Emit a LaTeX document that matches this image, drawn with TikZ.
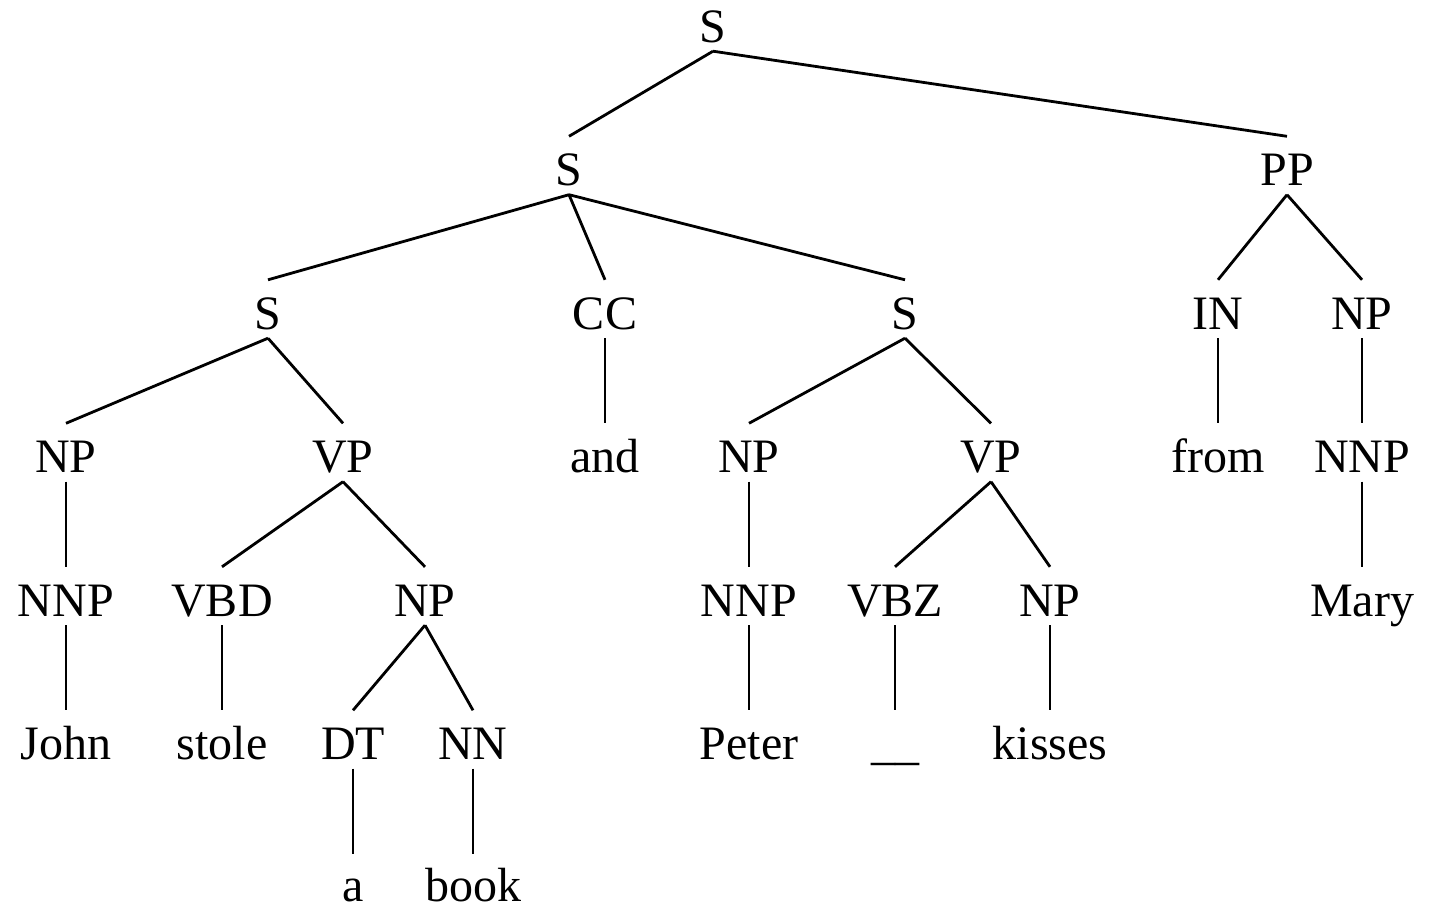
\documentclass[tikz,border=0pt]{standalone}
\usepackage{fontspec}
\setmainfont{Liberation Serif}
\begin{document}
\begin{tikzpicture}[x=1pt,y=-1pt,
  lbl/.style={anchor=base,inner sep=0pt,text height=49pt,text depth=9pt,font=\fontsize{48}{58}\selectfont},
  leaf/.style={lbl,text depth=0pt,text height=47pt},
  edge/.style={line width=2.8pt,line cap=butt}]
\useasboundingbox (0,0) rectangle (1440,908);
% level baselines
\def\La{42}\def\Lb{185.5}\def\Lc{329}\def\Ld{472.5}\def\Le{616}\def\Lf{759.5}\def\Lg{901}
\node[lbl] (s0) at (713,\La) {S};
\node[lbl] (s1) at (569,\Lb) {S};
\node[lbl] (pp) at (1287,\Lb) {PP};
\node[lbl] (s2a) at (268,\Lc) {S};
\node[lbl] (cc) at (605,\Lc) {CC};
\node[lbl] (s2b) at (905,\Lc) {S};
\node[lbl] (in) at (1218,\Lc) {IN};
\node[lbl] (np2) at (1362,\Lc) {NP};
\node[lbl] (np3a) at (66,\Ld) {NP};
\node[lbl] (vp3a) at (343,\Ld) {VP};
\node[lbl] (and) at (605,\Ld) {and};
\node[lbl] (np3b) at (749,\Ld) {NP};
\node[lbl] (vp3b) at (991,\Ld) {VP};
\node[lbl] (from) at (1218,\Ld) {from};
\node[lbl] (nnp3) at (1362,\Ld) {NNP};
\node[lbl] (nnp4a) at (66,\Le) {NNP};
\node[lbl] (vbd) at (222,\Le) {VBD};
\node[lbl] (np4a) at (425,\Le) {NP};
\node[lbl] (nnp4b) at (749,\Le) {NNP};
\node[lbl] (vbz) at (895,\Le) {VBZ};
\node[lbl] (np4b) at (1050,\Le) {NP};
\node[lbl] (mary) at (1362,\Le) {Mary};
\node[lbl] (john) at (66,\Lf) {John};
\node[lbl] (stole) at (222,\Lf) {stole};
\node[lbl] (dt) at (353,\Lf) {DT};
\node[lbl] (nn) at (473,\Lf) {NN};
\node[lbl] (peter) at (749,\Lf) {Peter};
\node[lbl] (gap) at (895,\Lf) {\_\_};
\node[lbl] (kisses) at (1050,\Lf) {kisses};
\node[leaf] (a) at (353,\Lg) {a};
\node[leaf] (book) at (473,\Lg) {book};
\foreach \p/\c in {s0/s1,s0/pp,s1/s2a,s1/cc,s1/s2b,pp/in,pp/np2,
  s2a/np3a,s2a/vp3a,cc/and,s2b/np3b,s2b/vp3b,in/from,np2/nnp3,
  np3a/nnp4a,vp3a/vbd,vp3a/np4a,np3b/nnp4b,vp3b/vbz,vp3b/np4b,nnp3/mary,
  nnp4a/john,vbd/stole,np4a/dt,np4a/nn,nnp4b/peter,vbz/gap,np4b/kisses,
  dt/a,nn/book}
  \draw[edge] (\p.south) -- (\c.north);
\end{tikzpicture}
\end{document}
